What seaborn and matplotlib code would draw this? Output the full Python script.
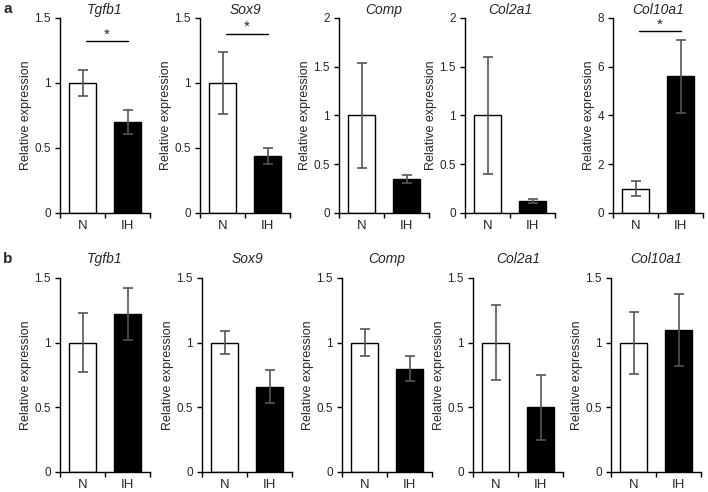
import matplotlib
matplotlib.use("Agg")
import matplotlib.pyplot as plt
import seaborn as sns
import pandas as pd
from matplotlib.ticker import FixedLocator

sns.set_style("white")
plt.rcParams['font.family'] = ['Liberation Sans', 'DejaVu Sans']

groups = ["N", "IH"]
genes = ["Tgfb1", "Sox9", "Comp", "Col2a1", "Col10a1"]

# Row a values
a_mean = {"Tgfb1": [1.0, 0.70], "Sox9": [1.0, 0.44], "Comp": [1.0, 0.35],
          "Col2a1": [1.0, 0.12], "Col10a1": [1.0, 5.6]}
a_err = {"Tgfb1": [0.10, 0.09], "Sox9": [0.24, 0.06], "Comp": [0.535, 0.04],
         "Col2a1": [0.60, 0.02], "Col10a1": [0.30, 1.5]}
a_ymax = {"Tgfb1": 1.5, "Sox9": 1.5, "Comp": 2.0, "Col2a1": 2.0, "Col10a1": 8.0}
a_yticks = {"Tgfb1": [0, 0.5, 1, 1.5], "Sox9": [0, 0.5, 1, 1.5],
            "Comp": [0, 0.5, 1, 1.5, 2], "Col2a1": [0, 0.5, 1, 1.5, 2],
            "Col10a1": [0, 2, 4, 6, 8]}
a_sig = {"Tgfb1": 1.32, "Sox9": 1.38, "Col10a1": 7.45}

# Row b values
b_mean = {"Tgfb1": [1.0, 1.22], "Sox9": [1.0, 0.66], "Comp": [1.0, 0.80],
          "Col2a1": [1.0, 0.50], "Col10a1": [1.0, 1.10]}
b_err = {"Tgfb1": [0.23, 0.20], "Sox9": [0.09, 0.13], "Comp": [0.105, 0.10],
         "Col2a1": [0.29, 0.25], "Col10a1": [0.24, 0.28]}
b_ymax = {g: 1.5 for g in genes}
b_yticks = {g: [0, 0.5, 1, 1.5] for g in genes}
b_sig = {}

W, H = 708, 492
fig = plt.figure(figsize=(W / 100, H / 100), dpi=100)

a_lefts = [60, 200, 339, 465, 613]
b_lefts = [60, 202, 342, 473, 611]
axw = 90


def fmt(v):
    return ("%g" % v)


def draw_panel(left, top, bottom, gene, means, errs, ymax, yticks, sig, title_pad):
    ax = fig.add_axes([left / W, 1 - bottom / H, axw / W, (bottom - top) / H])
    df = pd.DataFrame({"group": groups, "value": means})
    sns.barplot(data=df, x="group", y="value", hue="group",
                palette={"N": "white", "IH": "black"}, edgecolor="black",
                linewidth=1.0, width=0.6, ax=ax, legend=False, errorbar=None)
    ax.errorbar([0, 1], means, yerr=errs, fmt="none", ecolor="#555555",
                elinewidth=1.2, capsize=3.5, capthick=1.2, zorder=5)
    ax.set_xlim(-0.5, 1.5)
    ax.set_ylim(0, ymax)
    ax.set_yticks(yticks)
    ax.set_yticklabels([fmt(v) for v in yticks], fontsize=8.5)
    ax.set_xticks([0, 1])
    ax.set_xticklabels(groups, fontsize=9.5)
    ax.xaxis.set_minor_locator(FixedLocator([-0.5, 0.5, 1.5]))
    ax.tick_params(axis="x", which="major", length=0, pad=5)
    ax.tick_params(axis="x", which="minor", length=3.5, width=1.0,
                   direction="out", color="black", bottom=True)
    ax.tick_params(axis="y", which="major", length=3.5, width=1.0,
                   direction="out", color="black", left=True, pad=3)
    for s in ["top", "right"]:
        ax.spines[s].set_visible(False)
    for s in ["left", "bottom"]:
        ax.spines[s].set_color("black")
        ax.spines[s].set_linewidth(1.0)
    ax.set_xlabel("")
    ax.set_ylabel("Relative expression", fontsize=9, labelpad=2)
    ax.set_title(gene, fontsize=10, style="italic", pad=title_pad)
    if sig is not None:
        ax.plot([0.08, 1.0], [sig, sig], color="black", lw=1.0, clip_on=False)
        ax.text(0.54, sig, "*", ha="center", va="bottom", fontsize=11,
                clip_on=False)
    return ax


for i, g in enumerate(genes):
    draw_panel(a_lefts[i], 18, 213, g, a_mean[g], a_err[g], a_ymax[g],
               a_yticks[g], a_sig.get(g), 3)
    draw_panel(b_lefts[i], 278, 472, g, b_mean[g], b_err[g], b_ymax[g],
               b_yticks[g], b_sig.get(g), 11)

fig.text(3 / W, 1 - 9 / H, "a", fontsize=11, fontweight="bold", va="center")
fig.text(3 / W, 1 - 259 / H, "b", fontsize=11, fontweight="bold", va="center")

fig.savefig("out.png", dpi=100, facecolor="white")
